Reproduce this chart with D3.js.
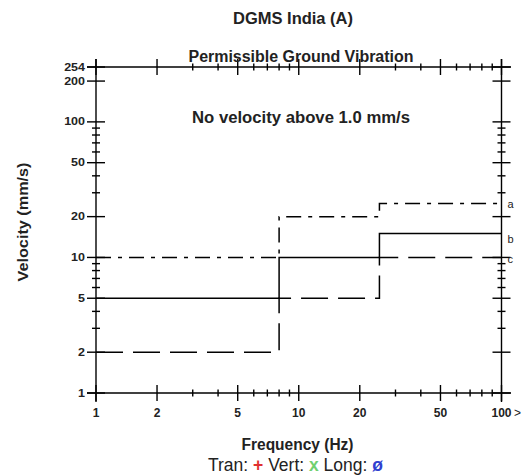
<!DOCTYPE html>
<html><head><meta charset="utf-8">
<script src="https://cdn.jsdelivr.net/npm/d3@7"></script>
<style>body{margin:0;background:#fff}svg{display:block}text{font-family:"Liberation Sans",Arial,sans-serif}</style>
</head><body><svg id="c" width="532" height="476"></svg>
<script>
// ---- data ----
const xMajorTicks = [1, 2, 5, 10, 20, 50, 100];
const xMinorTicks = [3, 4, 6, 7, 8, 9, 30, 40, 60, 70, 80, 90];
const yMajorTicks = [1, 2, 5, 10, 20, 50, 100, 200, 254];
const yMinorTicks = [3, 4, 6, 7, 8, 9, 30, 40, 60, 70, 80, 90];
const seriesNames = ["a", "b", "c"];
// step curves: [frequency Hz, velocity mm/s]
const curveA = [[1, 10], [8, 10], [8, 20], [25, 20], [25, 25], [100, 25]];
const curveB = [[1, 5], [8, 5], [8, 10], [25, 10], [25, 15], [100, 15]];
const curveC = [[1, 2], [8, 2], [8, 5], [25, 5], [25, 10], [100, 10]];
const curves = [curveA, curveB, curveC];

// ---- styles ----
const dashes = ["15,7,4,7", null, "27,10"];
const labelDy = [4.5, 9, 5.5];

const svg = d3.select("#c");
const x = d3.scaleLog().domain([1, 100]).range([96, 501.5]);
const y = d3.scaleLog().domain([1, 254]).range([393, 67]);
const x0 = x.range()[0], x1 = x.range()[1], y0 = y.range()[0], y1 = y.range()[1];

const g = svg.append("g").attr("stroke", "#000").attr("stroke-width", 1.4).attr("fill", "none");
// axis lines
g.append("line").attr("x1", 87).attr("x2", 511).attr("y1", y0).attr("y2", y0);
g.append("line").attr("x1", 87).attr("x2", 511).attr("y1", y1).attr("y2", y1);
g.append("line").attr("x1", x0).attr("x2", x0).attr("y1", 59).attr("y2", 402);
g.append("line").attr("x1", x1).attr("x2", x1).attr("y1", 59).attr("y2", 402);

// x ticks (bottom and top)
[y0, y1].forEach(yy => {
  xMajorTicks.forEach(v => g.append("line").attr("x1", x(v)).attr("x2", x(v)).attr("y1", yy - 8).attr("y2", yy + 8));
  xMinorTicks.forEach(v => g.append("line").attr("x1", x(v)).attr("x2", x(v)).attr("y1", yy - 3.5).attr("y2", yy + 3.5));
});
// y ticks (left and right)
[x0, x1].forEach(xx => {
  yMajorTicks.forEach(v => g.append("line").attr("y1", y(v)).attr("y2", y(v)).attr("x1", xx - 9).attr("x2", xx + 9));
  yMinorTicks.forEach(v => g.append("line").attr("y1", y(v)).attr("y2", y(v)).attr("x1", xx - 4).attr("x2", xx + 4));
});

// tick labels
svg.append("g").selectAll("text").data(xMajorTicks).join("text")
  .attr("x", d => x(d)).attr("y", 417).attr("text-anchor", "middle")
  .attr("font-size", 12).attr("font-weight", "bold").attr("fill", "#222").text(d => d);
svg.append("text").attr("x", 514).attr("y", 417).attr("font-size", 12).attr("fill", "#222").text(">");
svg.append("g").selectAll("text").data(yMajorTicks).join("text")
  .attr("transform", d => `translate(85,${y(d)}) scale(1,0.8)`).attr("y", 4.5).attr("text-anchor", "end")
  .attr("font-size", 12.5).attr("font-weight", "bold").attr("fill", "#222").text(d => d);

// curves
const line = d3.line().x(d => x(d[0])).y(d => y(d[1]));
curves.forEach((c, i) => {
  svg.append("path").attr("d", line(c)).attr("fill", "none").attr("stroke", "#000")
    .attr("stroke-width", 1.5).attr("stroke-dasharray", dashes[i]);
  const last = c[c.length - 1];
  svg.append("text").attr("x", x(last[0]) + 6).attr("y", y(last[1]) + labelDy[i])
    .attr("font-size", 11).attr("fill", "#222").text(seriesNames[i]);
});

// titles
svg.append("text").attr("x", 293).attr("y", 24).attr("text-anchor", "middle")
  .attr("font-size", 16).attr("font-weight", "bold").attr("fill", "#222")
  .attr("textLength", 120).attr("lengthAdjust", "spacingAndGlyphs").text("DGMS India (A)");
svg.append("text").attr("x", 301).attr("y", 62).attr("text-anchor", "middle")
  .attr("font-size", 16).attr("font-weight", "bold").attr("fill", "#222")
  .attr("textLength", 225).attr("lengthAdjust", "spacingAndGlyphs").text("Permissible Ground Vibration");
svg.append("text").attr("x", 301).attr("y", 123).attr("text-anchor", "middle")
  .attr("font-size", 16).attr("font-weight", "bold").attr("fill", "#222")
  .attr("textLength", 218).attr("lengthAdjust", "spacingAndGlyphs").text("No velocity above 1.0 mm/s");
svg.append("text").attr("transform", "translate(28,222) rotate(-90)").attr("text-anchor", "middle")
  .attr("font-size", 15.5).attr("font-weight", "bold").attr("fill", "#222")
  .attr("textLength", 119).attr("lengthAdjust", "spacingAndGlyphs").text("Velocity (mm/s)");
svg.append("text").attr("x", 297.5).attr("y", 450).attr("text-anchor", "middle")
  .attr("font-size", 16).attr("font-weight", "bold").attr("fill", "#222")
  .attr("textLength", 112).attr("lengthAdjust", "spacingAndGlyphs").text("Frequency (Hz)");

const legendItems = [["Tran: ", "+", "#e03030"], [" Vert: ", "x", "#70d070"], [" Long: ", "ø", "#3040d0"]];
const lg = svg.append("text").attr("x", 295.5).attr("y", 471).attr("text-anchor", "middle")
  .attr("font-size", 17.5).attr("fill", "#222");
legendItems.forEach(([lab, sym, col]) => {
  lg.append("tspan").text(lab);
  lg.append("tspan").attr("fill", col).attr("font-weight", "bold").text(sym);
});
</script></body></html>
